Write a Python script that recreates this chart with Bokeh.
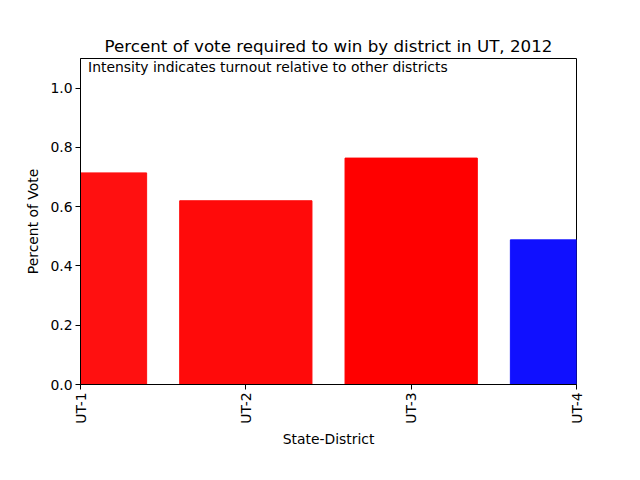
from bokeh.plotting import figure
from bokeh.models import Range1d, FixedTicker, PrintfTickFormatter, Label, ColumnDataSource
from bokeh.embed import file_html
from bokeh.resources import INLINE
import math

districts = ["UT-1", "UT-2", "UT-3", "UT-4"]
vote_share = [0.714, 0.620, 0.764, 0.488]
bar_colors = ["#ff1010", "#ff0a0a", "#ff0000", "#1010ff"]
positions = list(range(len(districts)))

src = ColumnDataSource(dict(x=positions, top=vote_share, color=bar_colors, name=districts))

FONT = "DejaVu Sans"
p = figure(width=640, height=480, output_backend="svg", toolbar_location=None,
           x_range=Range1d(0, 3), y_range=Range1d(0, 1.1),
           min_border_left=80, min_border_right=64, min_border_top=58, min_border_bottom=96,
           title="Percent of vote required to win by district in UT, 2012")

p.vbar(x="x", top="top", width=0.8, bottom=0, color="color", source=src)

p.title.text_font = FONT
p.title.text_font_size = "16.7px"
p.title.text_font_style = "normal"
p.title.align = "center"
p.title.text_color = "black"
p.title.standoff = 6

p.xgrid.visible = False
p.ygrid.visible = False
p.outline_line_color = "black"
p.outline_line_width = 1
p.background_fill_color = "white"
p.border_fill_color = "white"

xa = p.xaxis[0]
xa.ticker = FixedTicker(ticks=positions)
xa.major_label_overrides = {i: d for i, d in zip(positions, districts)}
xa.major_label_orientation = math.pi / 2
xa.axis_label = "State-District"

ya = p.yaxis[0]
ya.ticker = FixedTicker(ticks=[0.0, 0.2, 0.4, 0.6, 0.8, 1.0])
ya.formatter = PrintfTickFormatter(format="%.1f")
ya.axis_label = "Percent of Vote"

for ax in (xa, ya):
    ax.axis_label_text_font = FONT
    ax.axis_label_text_font_size = "13.9px"
    ax.axis_label_text_font_style = "normal"
    ax.axis_label_text_color = "black"
    ax.major_label_text_font = FONT
    ax.major_label_text_font_size = "13.9px"
    ax.major_label_text_color = "black"
    ax.minor_tick_line_color = None
    ax.major_tick_in = 0
    ax.major_tick_out = 5
    ax.major_tick_line_color = "black"
    ax.axis_line_color = "black"
    ax.major_label_standoff = 3
xa.axis_label_standoff = 4
ya.axis_label_standoff = 6

p.add_layout(Label(x=0.046, y=1.097, text="Intensity indicates turnout relative to other districts",
                   text_font=FONT, text_font_size="13.9px", text_baseline="top", text_color="black"))

open("out.html", "w").write(file_html(p, INLINE))
